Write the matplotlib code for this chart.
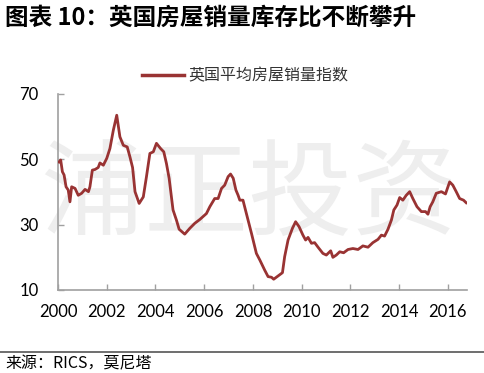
import matplotlib
matplotlib.use("Agg")
import matplotlib.pyplot as plt
from matplotlib.lines import Line2D

plt.rcParams['font.family'] = ['Noto Sans CJK SC', 'DejaVu Sans']

title = "图表 10：英国房屋销量库存比不断攀升"
series_name = "英国平均房屋销量指数"
source = "来源：RICS，莫尼塔"
watermark = "浦正投资"

years = [2000.04, 2000.11, 2000.18, 2000.25, 2000.33, 2000.42, 2000.49, 2000.56, 2000.70, 2000.83,
         2000.97, 2001.11, 2001.25, 2001.31, 2001.41, 2001.52, 2001.65, 2001.72, 2001.86, 2002.00,
         2002.13, 2002.27, 2002.41, 2002.54, 2002.68, 2002.84, 2002.95, 2003.06, 2003.16, 2003.33,
         2003.50, 2003.63, 2003.77, 2003.91, 2004.04, 2004.21, 2004.34, 2004.45, 2004.56, 2004.72,
         2004.86, 2004.97, 2005.20, 2005.41, 2005.61, 2005.82, 2006.09, 2006.23, 2006.43, 2006.57,
         2006.71, 2006.84, 2006.98, 2007.08, 2007.19, 2007.30, 2007.39, 2007.46, 2007.59, 2007.73,
         2007.94, 2008.14, 2008.28, 2008.48, 2008.62, 2008.76, 2008.85, 2009.03, 2009.21, 2009.30,
         2009.44, 2009.62, 2009.75, 2009.89, 2010.05, 2010.16, 2010.26, 2010.40, 2010.53, 2010.67,
         2010.87, 2011.01, 2011.19, 2011.28, 2011.42, 2011.56, 2011.72, 2011.90, 2012.10, 2012.31,
         2012.51, 2012.72, 2012.92, 2013.13, 2013.27, 2013.40, 2013.54, 2013.68, 2013.78, 2013.91,
         2014.02, 2014.15, 2014.29, 2014.43, 2014.56, 2014.73, 2014.91, 2015.08, 2015.18, 2015.27,
         2015.38, 2015.52, 2015.73, 2015.90, 2016.07, 2016.20, 2016.34, 2016.48, 2016.64, 2016.75]
values = [49.2, 49.8, 46.2, 45.2, 41.6, 40.6, 37.0, 41.6, 41.1, 39.0,
          39.6, 40.8, 40.1, 41.6, 46.7, 46.9, 47.5, 48.9, 48.2, 50.3,
          53.3, 58.9, 63.5, 56.9, 54.3, 53.8, 50.8, 47.5, 40.1, 36.5,
          38.5, 44.7, 51.8, 52.3, 54.9, 53.3, 52.3, 48.7, 44.2, 34.5,
          31.4, 28.6, 27.1, 28.9, 30.4, 31.6, 33.4, 35.5, 38.0, 38.0,
          41.1, 42.1, 44.7, 45.5, 44.2, 40.6, 39.0, 37.5, 37.5, 33.4,
          27.3, 21.2, 19.2, 16.1, 14.1, 13.9, 13.3, 14.3, 15.3, 20.2,
          25.3, 28.9, 30.9, 29.4, 26.8, 25.3, 26.1, 24.3, 24.5, 23.1,
          21.2, 20.7, 22.0, 20.0, 20.7, 21.7, 21.4, 22.4, 22.7, 22.4,
          23.5, 23.1, 24.5, 25.5, 26.8, 26.5, 28.6, 31.4, 34.5, 36.0,
          38.3, 37.5, 39.0, 40.1, 38.0, 35.5, 34.0, 34.0, 33.2, 35.5,
          37.0, 39.6, 40.1, 39.4, 43.1, 42.1, 40.1, 38.0, 37.5, 36.7]

x_ticks = [2000, 2002, 2004, 2006, 2008, 2010, 2012, 2014, 2016]
y_ticks = [10, 30, 50, 70]

W, H = 485, 373
fig = plt.figure(figsize=(W / 100, H / 100), dpi=100)
fig.patch.set_facecolor('white')

# watermark (behind the chart)
fig.text(248 / W, 1 - 198 / H, watermark, fontsize=75, color='#eeeeee',
         ha='center', va='center', fontweight='light', zorder=0)

ax = fig.add_axes([58 / W, 1 - 290 / H, (466.7 - 58) / W, (290 - 94) / H])
ax.set_facecolor('none')
ax.set_zorder(2)

line_color = '#993333'
ax.plot(years, values, color=line_color, lw=2.0, solid_joinstyle='round', zorder=3)

ax.set_xlim(2000, 2016.77)
ax.set_ylim(10, 70)
ax.set_xticks(x_ticks)
ax.set_xticklabels([str(t) for t in x_ticks])
ax.set_yticks(y_ticks)
ax.set_yticklabels([str(t) for t in y_ticks])

for s in ['top', 'right']:
    ax.spines[s].set_visible(False)
for s in ['left', 'bottom']:
    ax.spines[s].set_color('#a0a0a0')
    ax.spines[s].set_linewidth(1.2)

ax.tick_params(axis='x', direction='in', length=4, color='#a0a0a0', width=1.0,
               labelsize=12, pad=10, labelcolor='black')
ax.tick_params(axis='y', direction='in', length=4, color='#a0a0a0', width=1.0,
               labelsize=12, pad=14, labelcolor='black')
for lab in ax.get_xticklabels() + ax.get_yticklabels():
    lab.set_family(['Lato', 'DejaVu Sans'])

# legend
leg_handle = Line2D([], [], color=line_color, lw=2.5)
leg = fig.legend([leg_handle], [series_name], loc='center left',
                 bbox_to_anchor=(128 / W, 1 - 76 / H), frameon=False,
                 fontsize=11.5, handlelength=2.6, handletextpad=0.3,
                 labelcolor='#333333')
leg.set_zorder(3)

# title
fig.text(5 / W, 1 - 18 / H, title, fontsize=17, fontweight='bold',
         ha='left', va='center', color='black')

# bottom rule and source
fig.add_artist(Line2D([0, 1], [1 - 352 / H, 1 - 352 / H], color='#555555', lw=1.2,
                      transform=fig.transFigure))
fig.text(5 / W, 1 - 364 / H, source, fontsize=11.5, ha='left', va='center', color='black')

fig.savefig('out.png', dpi=100, facecolor='white')
